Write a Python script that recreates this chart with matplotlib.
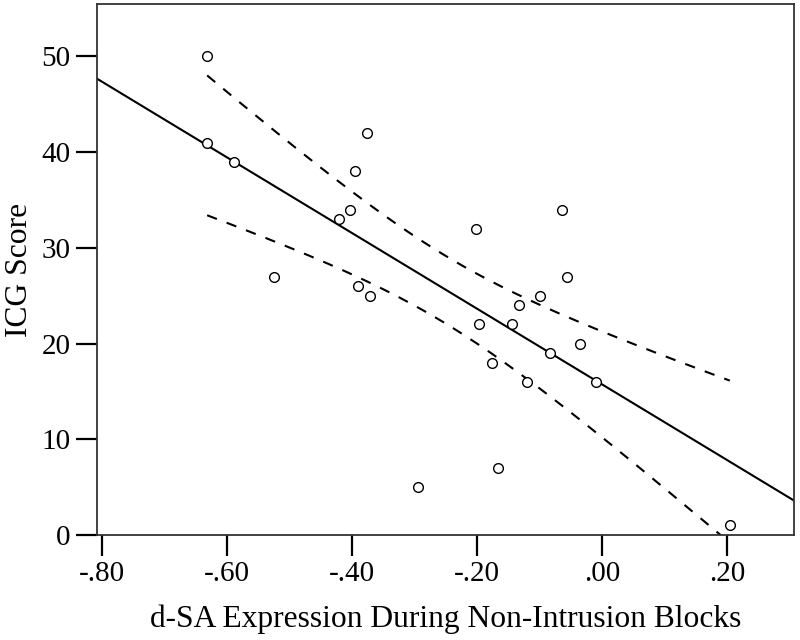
import numpy as np
import matplotlib
matplotlib.use("Agg")
import matplotlib.pyplot as plt

# d-SA expression (x) and ICG score (y)
dsa_expression = [-0.632, -0.632, -0.589, -0.525, -0.421, -0.404, -0.396, -0.377,
                  -0.391, -0.371, -0.294, -0.202, -0.197, -0.177, -0.167, -0.144,
                  -0.133, -0.120, -0.100, -0.084, -0.064, -0.057, -0.036, -0.010,
                  0.204]
icg_score = [50, 41, 39, 27, 33, 34, 38, 42, 26, 25, 5, 32, 22, 18, 7, 22,
             24, 16, 25, 19, 34, 27, 20, 16, 1]

x_ticks = [-0.8, -0.6, -0.4, -0.2, 0.0, 0.2]
x_tick_labels = ["-.80", "-.60", "-.40", "-.20", ".00", ".20"]
y_ticks = [0, 10, 20, 30, 40, 50]

T_CRIT = 2.069  # t(0.975, df=23)

plt.rcParams["font.family"] = ["Liberation Serif", "DejaVu Serif"]

x = np.array(dsa_expression)
y = np.array(icg_score)
n = len(x)

slope, intercept = np.polyfit(x, y, 1)
resid = y - (slope * x + intercept)
s_err = np.sqrt(np.sum(resid ** 2) / (n - 2))
sxx = np.sum((x - x.mean()) ** 2)

fig = plt.figure(figsize=(8, 6.4), dpi=100)
ax = fig.add_axes([0.121, 0.164, 0.871, 0.830])

x_min, x_max = -0.8085, 0.306
line_x = np.array([x_min, x_max])
ax.plot(line_x, slope * line_x + intercept, color="black", lw=1.5, zorder=2)

# 95% confidence band for the mean, over the range of the data
band_x = np.linspace(x.min(), x.max(), 200)
band_fit = slope * band_x + intercept
half = T_CRIT * s_err * np.sqrt(1 / n + (band_x - x.mean()) ** 2 / sxx)
for band in (band_fit + half, band_fit - half):
    ax.plot(band_x, band, color="black", lw=1.5, ls=(0, (5, 5)), zorder=2)

ax.plot(x, y, ls="none", marker="o", ms=7, mfc="white", mec="black",
        mew=1.0, zorder=3)

ax.set_xlim(x_min, x_max)
ax.set_ylim(0, 55.5)
ax.set_xticks(x_ticks)
ax.set_xticklabels(x_tick_labels)
ax.set_yticks(y_ticks)

for side in ax.spines.values():
    side.set_linewidth(1.3)
    side.set_color("#333333")
ax.tick_params(direction="out", length=15, width=1.6, labelsize=21,
               color="black", pad=4)

ax.set_xlabel("d-SA Expression During Non-Intrusion Blocks", fontsize=22.7,
              labelpad=12)
ax.set_ylabel("ICG Score", fontsize=22.7, labelpad=5)

fig.savefig("out.png", dpi=100)
plt.close(fig)
